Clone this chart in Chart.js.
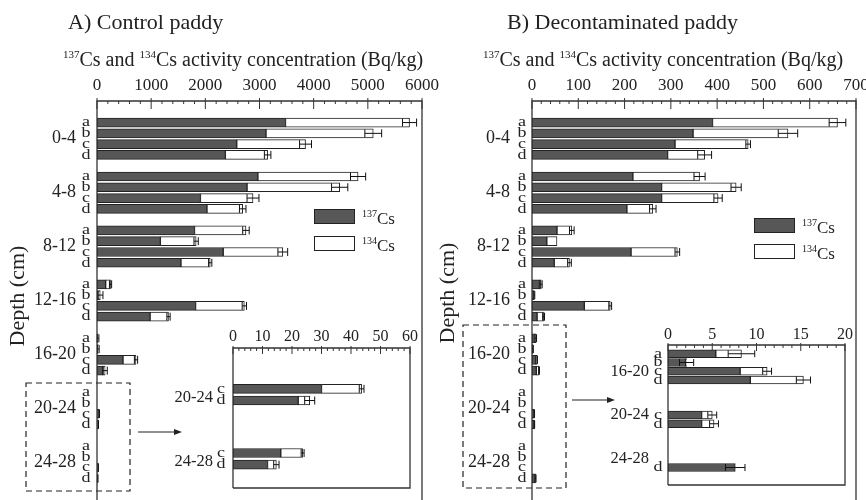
<!DOCTYPE html>
<html>
<head>
<meta charset="utf-8">
<script src="https://cdn.jsdelivr.net/npm/chart.js@4.4.1/dist/chart.umd.min.js"></script>
<style>
  body { margin: 0; background: #fff; width: 866px; height: 500px; overflow: hidden; position: relative; }
  canvas { position: absolute; }
</style>
</head>
<body>
<canvas id="mainA" width="445" height="500" style="left:0;top:0"></canvas>
<canvas id="mainB" width="445" height="500" style="left:433px;top:0"></canvas>
<canvas id="insetA" width="275" height="185" style="left:160px;top:315px"></canvas>
<canvas id="insetB" width="310" height="185" style="left:560px;top:315px"></canvas>
<script>
var depths = ['0-4', '4-8', '8-12', '12-16', '16-20', '20-24', '24-28'];
var cores = ['a', 'b', 'c', 'd'];

// A) control paddy, Bq/kg, one row per depth x core (a-d)
var cs137A = [3480, 3120, 2580, 2370, 2970, 2770, 1910, 2030, 1800, 1170, 2330, 1550,
              160, 40, 1820, 980, 10, 15, 480, 110, 0, 0, 30, 22.1, 0, 0, 16.2, 11.7];
var cs134A = [2290, 1980, 1270, 780, 1850, 1710, 970, 660, 950, 660, 1100, 540,
              90, 20, 900, 340, 10, 10, 240, 40, 0, 0, 13.6, 3.9, 0, 0, 7.4, 3.0];
var errA = [130, 155, 110, 60, 140, 150, 110, 60, 60, 40, 90, 30,
            20, 50, 40, 30, 15, 15, 30, 40, 0, 0, 0.8, 1.7, 0, 0, 0.5, 0.9];

// B) decontaminated paddy
var cs137B = [390, 348, 309, 293, 218, 280, 280, 205, 54, 32, 214, 48,
              16, 4, 113, 11, 5.4, 2.0, 8.15, 9.3, 0, 0, 3.8, 3.8, 0, 0, 0, 7.6];
var cs134B = [270, 205, 158, 80, 144, 161, 122, 56, 32, 22, 100, 33,
              4, 1, 56, 14, 2.9, 0.1, 3.05, 6.0, 0, 0, 1.2, 1.4, 0, 0, 0, 0];
var errB = [18, 21, 5, 15, 12, 11, 9, 7, 5, 0, 5, 4,
            2, 1, 3, 2, 1.5, 0.8, 0.5, 0.8, 0, 0, 0.5, 0.5, 0, 0, 0, 1.1];

var SERIF = '"Liberation Serif", "Times New Roman", serif';
var INK = '#222';
var DARK = '#575757';

// main panels: every row, 5 slots per depth (4 cores + gap)
var mainRows = [], mainGroups = [];
depths.forEach(function (d, g) {
  for (var s = 0; s < 4; s++) mainRows.push([g * 4 + s, 2 + 5 * g + s]);
  mainGroups.push([d, 2 + 5 * g + 1.5]);
});

function supText(c, parts, x, y, size, supSize) {
  parts.forEach(function (p) {
    if (p[0] === '^') {
      c.font = supSize + 'px ' + SERIF;
      c.fillText(p.slice(1), x, y - size * 0.42);
      x += c.measureText(p.slice(1)).width;
    } else {
      c.font = size + 'px ' + SERIF;
      c.fillText(p, x, y);
      x += c.measureText(p).width;
    }
  });
}

function deco(cfg) {
  return {
    id: 'deco',
    beforeDraw: function (chart) {
      if (!cfg.inset) return;
      var a = chart.chartArea, c = chart.ctx;
      c.save();
      c.fillStyle = '#fff';
      c.fillRect(a.left, a.top, a.right - a.left, a.bottom - a.top);
      c.restore();
    },
    afterDatasetsDraw: function (chart) {
      var c = chart.ctx, xs = chart.scales.x, ys = chart.scales.y;
      var d0 = chart.data.datasets[0].data, d1 = chart.data.datasets[1].data;
      c.save();
      c.strokeStyle = '#111';
      c.lineWidth = 1;
      cfg.errs.forEach(function (e, i) {
        if (!e) return;
        var tot = (d0[i] || 0) + (d1[i] || 0);
        var y = ys.getPixelForValue(i);
        var x1 = xs.getPixelForValue(tot - e), x2 = xs.getPixelForValue(tot + e);
        var h = cfg.cap;
        c.beginPath();
        c.moveTo(x1, y); c.lineTo(x2, y);
        c.moveTo(x1, y - h); c.lineTo(x1, y + h);
        c.moveTo(x2, y - h); c.lineTo(x2, y + h);
        c.stroke();
      });
      c.restore();
    },
    afterDraw: function (chart) {
      var c = chart.ctx, a = chart.chartArea, xs = chart.scales.x, ys = chart.scales.y;
      c.save();
      // frame
      c.strokeStyle = '#333';
      c.lineWidth = 1.3;
      var bottom = cfg.inset ? a.bottom : chart.height;
      c.beginPath();
      c.moveTo(a.left, bottom); c.lineTo(a.left, a.top); c.lineTo(a.right, a.top); c.lineTo(a.right, bottom);
      if (cfg.inset) c.lineTo(a.left, bottom);
      c.stroke();
      // major and minor ticks, pointing inward
      c.lineWidth = 1;
      c.beginPath();
      for (var v = xs.min; v <= xs.max + 1e-9; v += cfg.minor) {
        var px = xs.getPixelForValue(v);
        var major = Math.abs(v / cfg.step - Math.round(v / cfg.step)) < 1e-6;
        c.moveTo(px, major ? a.top - cfg.tickUp : a.top);
        c.lineTo(px, a.top + (major ? cfg.tickLong : cfg.tickShort));
      }
      c.stroke();
      // core letters, squeezed like in the print
      c.fillStyle = INK;
      c.textAlign = 'center';
      c.textBaseline = 'middle';
      cfg.rows.forEach(function (r) {
        var y = ys.getPixelForValue(r[1]);
        c.save();
        c.translate(a.left - cfg.letterDx, y);
        c.scale(1, 0.8);
        c.font = cfg.letterSize + 'px ' + SERIF;
        c.fillText(cores[r[0] % 4], 0, 0);
        c.restore();
      });
      // depth labels
      c.textAlign = 'right';
      c.font = cfg.depthSize + 'px ' + SERIF;
      cfg.groups.forEach(function (gr) {
        c.fillText(gr[0], a.left - cfg.depthDx, ys.getPixelForValue(gr[1]));
      });
      c.restore();

      if (!cfg.page) return;
      var p = cfg.page;
      c.save();
      c.translate(-cfg.left, -cfg.top);
      c.fillStyle = INK;
      c.textAlign = 'left';
      c.textBaseline = 'alphabetic';
      c.font = '22px ' + SERIF;
      c.fillText(p.title, p.titleX, 29);
      supText(c, ['^137', 'Cs and ', '^134', 'Cs activity concentration (Bq/kg)'], p.axisX, 66, 20, 11);
      // y title
      c.save();
      c.translate(p.depthX, p.depthY);
      c.rotate(-Math.PI / 2);
      c.textAlign = 'center';
      c.textBaseline = 'middle';
      c.font = '22px ' + SERIF;
      c.fillText('Depth (cm)', 0, 0);
      c.restore();
      // legend
      c.lineWidth = 1;
      c.strokeStyle = INK;
      [[DARK, '^137'], ['#fff', '^134']].forEach(function (L, i) {
        var y = p.legY[i];
        c.fillStyle = L[0];
        c.fillRect(p.legX, y, 41, 15);
        c.strokeRect(p.legX + 0.5, y + 0.5, 40, 14);
        c.fillStyle = INK;
        supText(c, [L[1], 'Cs'], p.legX + 48, y + 15, 17, 10);
      });
      // dashed box and arrow towards the inset
      c.setLineDash([6, 4]);
      c.lineWidth = 1.2;
      c.strokeStyle = '#222';
      c.strokeRect(p.box[0], p.box[1], p.box[2] - p.box[0], p.box[3] - p.box[1]);
      c.setLineDash([]);
      c.beginPath();
      c.moveTo(p.arrow[0], p.arrow[2]);
      c.lineTo(p.arrow[1] - 6, p.arrow[2]);
      c.stroke();
      c.beginPath();
      c.moveTo(p.arrow[1], p.arrow[2]);
      c.lineTo(p.arrow[1] - 8, p.arrow[2] - 3);
      c.lineTo(p.arrow[1] - 8, p.arrow[2] + 3);
      c.closePath();
      c.fillStyle = '#222';
      c.fill();
      c.restore();
    }
  };
}

function makeChart(id, cfg) {
  var n = cfg.nSlots;
  var labels = [], d137 = [], d134 = [], err = [];
  for (var i = 0; i < n; i++) { labels.push(''); d137.push(null); d134.push(null); err.push(0); }
  cfg.rows.forEach(function (r) {
    var k = r[0], s = r[1];
    labels[s] = cores[k % 4];
    d137[s] = cfg.cs137[k] || null;
    d134[s] = cfg.cs134[k] || null;
    err[s] = cfg.err[k];
  });
  cfg.errs = err;
  return new Chart(document.getElementById(id), {
    type: 'bar',
    data: {
      labels: labels,
      datasets: [
        { label: '137Cs', data: d137, backgroundColor: DARK, borderColor: INK, borderWidth: 1,
          borderSkipped: false, barThickness: cfg.barH },
        { label: '134Cs', data: d134, backgroundColor: '#fff', borderColor: INK, borderWidth: 1,
          borderSkipped: false, barThickness: cfg.barH }
      ]
    },
    options: {
      responsive: false,
      animation: false,
      devicePixelRatio: 1,
      indexAxis: 'y',
      layout: { padding: cfg.pad },
      plugins: { legend: { display: false }, tooltip: { enabled: false } },
      scales: {
        x: {
          type: 'linear', position: 'top', stacked: true, min: 0, max: cfg.max,
          ticks: { stepSize: cfg.step, color: INK, padding: cfg.tickPad, maxRotation: 0,
                   font: { family: SERIF, size: cfg.tickSize },
                   callback: function (v) { return String(v); } },
          grid: { display: false, drawTicks: false },
          border: { display: false },
          afterFit: function (s) { s.height = cfg.axisH; }
        },
        y: { type: 'category', stacked: true, display: false, offset: false }
      }
    },
    plugins: [deco(cfg)]
  });
}

makeChart('mainA', {
  left: 0, top: 0, nSlots: 38, rows: mainRows, groups: mainGroups,
  cs137: cs137A, cs134: cs134A, err: errA,
  max: 6000, step: 1000, minor: 200, barH: 9, cap: 4,
  pad: { left: 97, right: 23, top: 71, bottom: 0 }, axisH: 30, tickPad: 5, tickSize: 17,
  tickUp: 3, tickLong: 8, tickShort: 3,
  letterDx: 11, letterSize: 18, depthDx: 21, depthSize: 18,
  page: { title: 'A) Control paddy', titleX: 68, axisX: 63, depthX: 18, depthY: 296,
          legX: 314, legY: [209, 236], box: [26, 383, 130, 491], arrow: [138, 182, 432] }
});

makeChart('mainB', {
  left: 433, top: 0, nSlots: 38, rows: mainRows, groups: mainGroups,
  cs137: cs137B, cs134: cs134B, err: errB,
  max: 700, step: 100, minor: 20, barH: 9, cap: 4,
  pad: { left: 99, right: 22, top: 71, bottom: 0 }, axisH: 30, tickPad: 5, tickSize: 17,
  tickUp: 3, tickLong: 8, tickShort: 3,
  letterDx: 10, letterSize: 18, depthDx: 22, depthSize: 18,
  page: { title: 'B) Decontaminated paddy', titleX: 507, axisX: 483, depthX: 448, depthY: 293,
          legX: 754, legY: [218, 244], box: [463, 325, 566, 488], arrow: [572, 615, 400] }
});

makeChart('insetA', {
  left: 160, top: 315, inset: true, nSlots: 25,
  rows: [[22, 7], [23, 9], [26, 18], [27, 20]],
  groups: [['20-24', 8.5], ['24-28', 19.5]],
  cs137: cs137A, cs134: cs134A, err: errA,
  max: 60, step: 10, minor: 2, barH: 9, cap: 4,
  pad: { left: 73, right: 25, top: 8, bottom: 12 }, axisH: 25, tickPad: 2, tickSize: 16,
  tickUp: 2, tickLong: 6, tickShort: 3,
  letterDx: 12, letterSize: 18, depthDx: 20, depthSize: 16.5
});

makeChart('insetB', {
  left: 560, top: 315, inset: true, nSlots: 17,
  rows: [[16, 1], [17, 2], [18, 3], [19, 4], [22, 8], [23, 9], [27, 14]],
  groups: [['16-20', 3], ['20-24', 8], ['24-28', 13]],
  cs137: cs137B, cs134: cs134B, err: errB,
  max: 20, step: 5, minor: 1, barH: 8, cap: 3.5,
  pad: { left: 108, right: 25, top: 8, bottom: 15 }, axisH: 22, tickPad: 1, tickSize: 16,
  tickUp: 2, tickLong: 6, tickShort: 3,
  letterDx: 10, letterSize: 18, depthDx: 19, depthSize: 16.5
});
</script>
</body>
</html>
